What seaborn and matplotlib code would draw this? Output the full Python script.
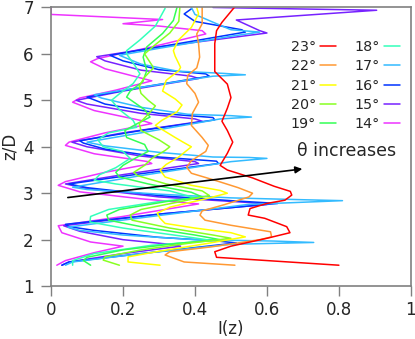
import numpy as np
import pandas as pd
import matplotlib
matplotlib.use("Agg")
import matplotlib.pyplot as plt
import seaborn as sns

# angle labels, top to bottom in the legend
angles = ["23°", "22°", "21°", "20°", "19°", "18°", "17°", "16°", "15°", "14°"]
colors = ["#ff0000", "#ff9933", "#ffff00", "#88ff22", "#33ff55",
          "#33ffbb", "#33bbff", "#0033ff", "#7722ff", "#ee33ff"]

# I(z) profiles (I values, z/D values)
i23 = [0.80, 0.46, 0.455, 0.50, 0.60, 0.664, 0.655, 0.594, 0.548, 0.553, 0.60, 0.65, 0.669, 0.665, 0.62, 0.56, 0.49, 0.47, 0.49, 0.505, 0.49, 0.475, 0.49, 0.50, 0.49, 0.455, 0.455, 0.455, 0.46, 0.475, 0.506, 0.515]
z23 = [1.45, 1.62, 1.74, 1.86, 2.03, 2.15, 2.28, 2.46, 2.53, 2.67, 2.78, 2.85, 2.96, 3.04, 3.15, 3.33, 3.50, 3.60, 3.86, 4.10, 4.35, 4.55, 4.83, 5.06, 5.35, 5.62, 5.90, 6.22, 6.50, 6.68, 6.97, 7.05]

i22 = [0.511, 0.37, 0.317, 0.33, 0.45, 0.58, 0.613, 0.61, 0.50, 0.428, 0.414, 0.42, 0.48, 0.55, 0.56, 0.52, 0.455, 0.39, 0.377, 0.39, 0.43, 0.437, 0.42, 0.39, 0.393, 0.41, 0.40, 0.377, 0.38, 0.405, 0.413, 0.41, 0.405, 0.42, 0.42]
z22 = [1.45, 1.52, 1.67, 1.74, 1.85, 2.00, 2.06, 2.17, 2.31, 2.42, 2.53, 2.62, 2.75, 2.92, 3.00, 3.12, 3.28, 3.43, 3.56, 3.70, 3.90, 4.03, 4.20, 4.46, 4.72, 4.96, 5.15, 5.36, 5.54, 5.70, 5.93, 6.22, 6.43, 6.65, 7.00]

i21 = [0.303, 0.214, 0.214, 0.30, 0.42, 0.54, 0.50, 0.40, 0.317, 0.303, 0.295, 0.33, 0.43, 0.49, 0.47, 0.39, 0.317, 0.303, 0.32, 0.353, 0.39, 0.367, 0.345, 0.29, 0.308, 0.35, 0.364, 0.345, 0.31, 0.32, 0.355, 0.36, 0.345, 0.34, 0.353, 0.39, 0.41, 0.405]
z21 = [1.45, 1.52, 1.63, 1.75, 1.90, 2.06, 2.15, 2.25, 2.35, 2.46, 2.57, 2.70, 2.88, 3.00, 3.06, 3.17, 3.35, 3.50, 3.62, 3.77, 4.00, 4.10, 4.20, 4.46, 4.57, 4.75, 4.90, 5.03, 5.20, 5.43, 5.64, 5.71, 5.95, 6.07, 6.29, 6.57, 6.86, 7.00]

i20 = [0.19, 0.145, 0.15, 0.25, 0.38, 0.50, 0.45, 0.33, 0.225, 0.22, 0.25, 0.36, 0.44, 0.42, 0.32, 0.24, 0.23, 0.26, 0.28, 0.317, 0.33, 0.30, 0.25, 0.245, 0.27, 0.29, 0.27, 0.25, 0.245, 0.26, 0.285, 0.27, 0.26, 0.29, 0.33, 0.355, 0.358]
z20 = [1.45, 1.56, 1.63, 1.78, 1.92, 2.03, 2.10, 2.25, 2.42, 2.53, 2.65, 2.82, 2.95, 3.05, 3.20, 3.38, 3.45, 3.60, 3.75, 3.92, 4.00, 4.15, 4.35, 4.50, 4.70, 4.88, 5.00, 5.15, 5.30, 5.50, 5.70, 5.88, 6.00, 6.20, 6.45, 6.70, 7.00]

i19 = [0.11, 0.09, 0.10, 0.20, 0.35, 0.47, 0.40, 0.25, 0.16, 0.155, 0.19, 0.32, 0.42, 0.39, 0.27, 0.19, 0.18, 0.20, 0.24, 0.27, 0.26, 0.21, 0.205, 0.24, 0.275, 0.26, 0.21, 0.22, 0.255, 0.266, 0.256, 0.266, 0.31, 0.34, 0.35]
z19 = [1.45, 1.55, 1.62, 1.78, 1.92, 2.00, 2.10, 2.28, 2.42, 2.53, 2.65, 2.82, 2.92, 3.02, 3.20, 3.35, 3.45, 3.60, 3.78, 3.90, 4.05, 4.20, 4.35, 4.50, 4.64, 4.80, 5.07, 5.20, 5.40, 5.64, 5.93, 6.15, 6.44, 6.72, 7.00]

i18 = [0.06, 0.06, 0.12, 0.28, 0.45, 0.36, 0.20, 0.108, 0.11, 0.16, 0.30, 0.40, 0.33, 0.18, 0.12, 0.135, 0.18, 0.22, 0.20, 0.145, 0.13, 0.16, 0.238, 0.228, 0.19, 0.168, 0.19, 0.228, 0.247, 0.233, 0.21, 0.21, 0.247, 0.29, 0.317]
z18 = [1.45, 1.55, 1.70, 1.88, 1.98, 2.08, 2.25, 2.38, 2.50, 2.65, 2.82, 2.90, 3.05, 3.20, 3.28, 3.40, 3.55, 3.75, 3.90, 4.00, 4.15, 4.30, 4.42, 4.57, 4.80, 5.00, 5.14, 5.36, 5.57, 5.75, 6.00, 6.07, 6.30, 6.60, 6.98]

i17 = [0.04, 0.06, 0.25, 0.50, 0.73, 0.62, 0.40, 0.20, 0.08, 0.047, 0.30, 0.55, 0.81, 0.70, 0.50, 0.30, 0.10, 0.06, 0.25, 0.50, 0.60, 0.55, 0.45, 0.30, 0.15, 0.10, 0.25, 0.47, 0.557, 0.50, 0.38, 0.25, 0.14, 0.12, 0.25, 0.45, 0.54, 0.48, 0.35, 0.25, 0.19, 0.30, 0.50, 0.58, 0.50, 0.46, 0.40, 0.39]
z17 = [1.45, 1.52, 1.70, 1.90, 1.94, 1.97, 2.00, 2.10, 2.20, 2.27, 2.52, 2.76, 2.84, 2.86, 2.90, 2.98, 3.08, 3.13, 3.38, 3.68, 3.75, 3.77, 3.78, 3.88, 4.02, 4.10, 4.30, 4.60, 4.64, 4.67, 4.70, 4.85, 5.05, 5.12, 5.28, 5.52, 5.55, 5.58, 5.63, 5.78, 5.97, 6.12, 6.38, 6.47, 6.52, 6.65, 6.85, 7.00]

i16 = [0.03, 0.05, 0.25, 0.515, 0.45, 0.30, 0.12, 0.05, 0.04, 0.30, 0.63, 0.50, 0.30, 0.10, 0.05, 0.25, 0.465, 0.46, 0.30, 0.15, 0.09, 0.08, 0.25, 0.455, 0.45, 0.30, 0.15, 0.10, 0.25, 0.44, 0.43, 0.30, 0.20, 0.164, 0.30, 0.54, 0.53, 0.40, 0.37, 0.39]
z16 = [1.45, 1.52, 1.70, 1.93, 1.98, 2.05, 2.20, 2.28, 2.33, 2.55, 2.78, 2.84, 2.95, 3.12, 3.20, 3.42, 3.64, 3.69, 3.78, 3.95, 4.08, 4.13, 4.35, 4.58, 4.63, 4.72, 4.92, 5.07, 5.28, 5.52, 5.57, 5.66, 5.85, 5.97, 6.15, 6.47, 6.52, 6.70, 6.86, 6.97]

i15 = [0.03, 0.05, 0.20, 0.36, 0.33, 0.20, 0.08, 0.035, 0.30, 0.60, 0.55, 0.30, 0.10, 0.04, 0.20, 0.41, 0.40, 0.25, 0.10, 0.058, 0.20, 0.42, 0.40, 0.25, 0.10, 0.07, 0.20, 0.41, 0.39, 0.25, 0.15, 0.127, 0.30, 0.60, 0.58, 0.515, 0.905, 0.60, 0.45]
z15 = [1.45, 1.52, 1.70, 1.86, 1.90, 2.00, 2.18, 2.30, 2.55, 2.76, 2.80, 2.92, 3.10, 3.20, 3.40, 3.64, 3.68, 3.80, 4.00, 4.10, 4.30, 4.55, 4.60, 4.72, 4.92, 5.00, 5.20, 5.47, 5.52, 5.65, 5.85, 5.94, 6.15, 6.45, 6.50, 6.73, 6.94, 6.98, 7.00]

i14 = [0.016, 0.04, 0.12, 0.20, 0.11, 0.03, 0.02, 0.20, 0.41, 0.25, 0.08, 0.02, 0.04, 0.15, 0.28, 0.27, 0.12, 0.04, 0.05, 0.15, 0.28, 0.26, 0.12, 0.06, 0.08, 0.18, 0.28, 0.25, 0.15, 0.11, 0.13, 0.28, 0.43, 0.42, 0.30, 0.20, 0.31, 0.0, 0.0]
z14 = [1.45, 1.55, 1.72, 1.86, 1.95, 2.15, 2.30, 2.50, 2.77, 2.88, 3.03, 3.17, 3.25, 3.45, 3.64, 3.68, 3.85, 4.03, 4.10, 4.30, 4.50, 4.55, 4.78, 4.96, 5.05, 5.22, 5.42, 5.48, 5.68, 5.83, 5.90, 6.15, 6.43, 6.50, 6.60, 6.65, 6.74, 6.85, 7.00]

profiles_i = [i23, i22, i21, i20, i19, i18, i17, i16, i15, i14]
profiles_z = [z23, z22, z21, z20, z19, z18, z17, z16, z15, z14]

frames = []
for a, iv, zv in zip(angles, profiles_i, profiles_z):
    frames.append(pd.DataFrame({"I": iv, "z": zv, "angle": a}))
df = pd.concat(frames, ignore_index=True)

sns.set_style("white")
fig = plt.figure(figsize=(4.15, 3.39), dpi=100)
ax = fig.add_axes([0.123, 0.156, 0.867, 0.822])

# draw 14° first so 23° ends up on top
for a, c in reversed(list(zip(angles, colors))):
    sub = df[df["angle"] == a]
    sns.lineplot(data=sub, x="I", y="z", sort=False, estimator=None,
                 color=c, lw=1.1, ax=ax, label=a)

ax.set_xlim(0, 1)
ax.set_ylim(1, 7)
ax.set_xticks([0, 0.2, 0.4, 0.6, 0.8, 1])
ax.set_xticklabels(["0", "0.2", "0.4", "0.6", "0.8", "1"])
ax.set_yticks([1, 2, 3, 4, 5, 6, 7])
ax.tick_params(axis="both", direction="out", length=7, width=1, color="#808080",
               labelsize=12, left=True, bottom=True)
ax.tick_params(axis="x", pad=3.5)
ax.tick_params(axis="y", pad=5.5)
for s in ax.spines.values():
    s.set_color("#808080")
    s.set_linewidth(1.2)
ax.set_xlabel("I(z)", fontsize=12, labelpad=1)
ax.set_ylabel("z/D", fontsize=12, labelpad=3)

handles, labels = ax.get_legend_handles_labels()
lookup = dict(zip(labels, handles))
ax.legend([lookup[a] for a in angles], angles, ncol=2, markerfirst=False,
          frameon=False, fontsize=10.3, handlelength=1.15, handletextpad=0.25,
          columnspacing=1.3, labelspacing=0.38, borderpad=0,
          loc="upper right", bbox_to_anchor=(0.99, 0.91))

ax.annotate("", xy=(0.706, 3.53), xytext=(0.039, 2.9),
            arrowprops=dict(arrowstyle="-|>", color="black", lw=1.2, mutation_scale=10))
ax.text(0.683, 3.92, "θ increases", fontsize=12.5, va="center", ha="left")

fig.savefig("out.png", dpi=100)
